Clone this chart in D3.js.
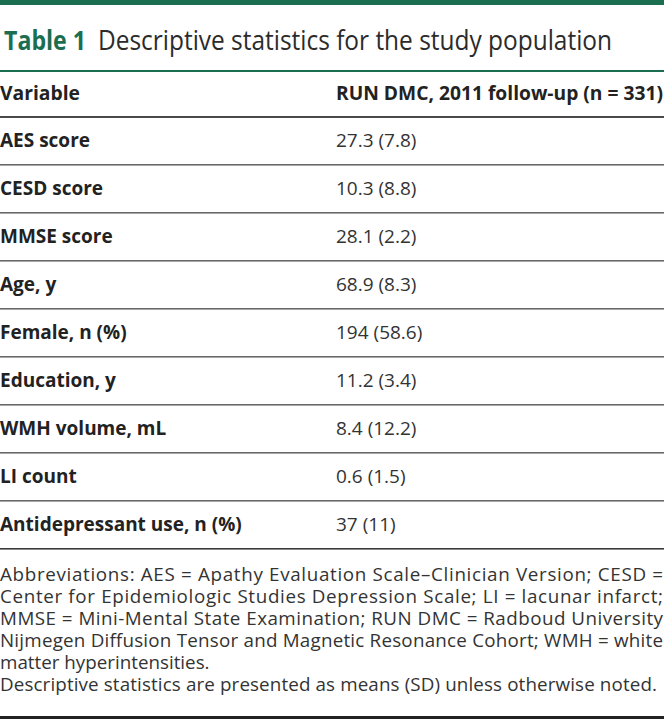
<!DOCTYPE html>
<html><head><meta charset="utf-8">
<script src="https://cdn.jsdelivr.net/npm/d3@7"></script>
<style>
html,body{margin:0;padding:0;background:#fff;}
svg{display:block;}
text{font-family:"Open Sans",sans-serif;}
</style></head>
<body>
<script>
const titleLabel = "Table 1";
const titleText = "Descriptive statistics for the study population";
const headers = ["Variable", "RUN DMC, 2011 follow-up (n = 331)"];
const variables = ["AES score","CESD score","MMSE score","Age, y","Female, n (%)","Education, y","WMH volume, mL","LI count","Antidepressant use, n (%)"];
const values = ["27.3 (7.8)","10.3 (8.8)","28.1 (2.2)","68.9 (8.3)","194 (58.6)","11.2 (3.4)","8.4 (12.2)","0.6 (1.5)","37 (11)"];
const footLines = [
  "Abbreviations: AES = Apathy Evaluation Scale\u2013Clinician Version; CESD =",
  "Center for Epidemiologic Studies Depression Scale; LI = lacunar infarct;",
  "MMSE = Mini-Mental State Examination; RUN DMC = Radboud University",
  "Nijmegen Diffusion Tensor and Magnetic Resonance Cohort; WMH = white",
  "matter hyperintensities.",
  "Descriptive statistics are presented as means (SD) unless otherwise noted."
];
const footWidths = [663, 663, 663, 663, null, 657];

const W = 664, H = 719;
const green = "#1b6e4f";
const svg = d3.select("body").append("svg").attr("width", W).attr("height", H);

// top bar
svg.append("rect").attr("x",0).attr("y",0).attr("width",W).attr("height",5).attr("fill",green);

// title
svg.append("text").attr("x",4).attr("y",50).attr("font-size",26.5).attr("font-weight",700)
  .attr("fill",green).attr("textLength",82).attr("lengthAdjust","spacingAndGlyphs").text(titleLabel);
svg.append("text").attr("x",98).attr("y",50).attr("font-size",26.5).attr("font-weight",400)
  .attr("fill","#2b2b2b").attr("textLength",514).attr("lengthAdjust","spacingAndGlyphs").text(titleText);
svg.append("rect").attr("x",0).attr("y",70).attr("width",W).attr("height",2).attr("fill",green);

// header
const colX = [0, 336];
svg.append("text").attr("x",colX[0]).attr("y",100).attr("font-size",19).attr("font-weight",700)
  .attr("fill","#222").attr("textLength",80).attr("lengthAdjust","spacingAndGlyphs").text(headers[0]);
svg.append("text").attr("x",colX[1]).attr("y",100).attr("font-size",19).attr("font-weight",700)
  .attr("fill","#222").attr("textLength",327).attr("lengthAdjust","spacingAndGlyphs").text(headers[1]);

// rows
const y = d3.scaleBand().domain(variables).range([117, 117 + 48*variables.length]).paddingInner(0);
svg.append("rect").attr("x",0).attr("y",116).attr("width",W).attr("height",2).attr("fill","#4a4a4a");

const rows = svg.selectAll("g.row").data(variables).join("g").attr("class","row")
  .attr("transform", d => `translate(0,${y(d)})`);
rows.append("text").attr("x",colX[0]).attr("y",29.5).attr("font-size",19).attr("font-weight",700)
  .attr("fill","#222").text(d => d);
rows.append("text").attr("x",colX[1]).attr("y",29.5).attr("font-size",19).attr("font-weight",400)
  .attr("fill","#333").text((d,i) => values[i]);
rows.append("rect").attr("x",0).attr("y",y.bandwidth()-1).attr("width",W).attr("height",1.6)
  .attr("fill",(d,i)=> i===variables.length-1 ? "#3a3a3a" : "#6a6a6a");

// footnote
const fy = d3.scaleLinear().domain([0, footLines.length-1]).range([581, 581 + 22*5]);
svg.selectAll("text.foot").data(footLines).join("text").attr("class","foot")
  .attr("x",0).attr("y",(d,i)=>fy(i)).attr("font-size",18.8).attr("fill","#333")
  .each(function(d,i){
    const t = d3.select(this).text(d);
    if (footWidths[i]) { t.attr("textLength", footWidths[i]).attr("lengthAdjust","spacing"); }
  });

// bottom rule
svg.append("rect").attr("x",0).attr("y",716).attr("width",W).attr("height",3).attr("fill","#222");
</script>
</body></html>
